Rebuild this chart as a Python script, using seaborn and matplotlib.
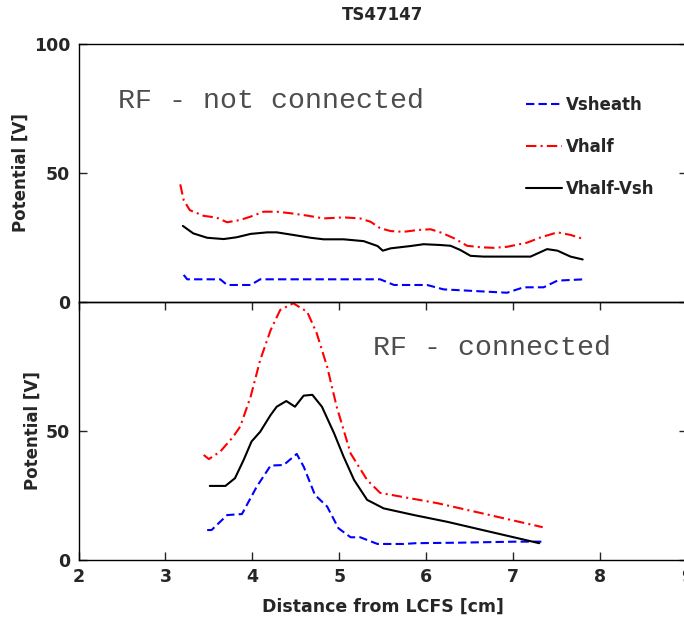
import numpy as np
import pandas as pd
import matplotlib
matplotlib.use("Agg")
import matplotlib.pyplot as plt
import seaborn as sns

# Dados - painel de cima (RF nao conectado)
x_vsh_top = [3.21, 3.25, 3.63, 3.71, 3.98, 4.09, 5.47, 5.63, 6.01, 6.20, 6.93, 7.12, 7.35, 7.51, 7.82]
vsh_top = [10.5, 8.8, 8.8, 6.6, 6.6, 8.8, 8.8, 6.6, 6.6, 4.9, 3.6, 5.7, 5.7, 8.3, 8.8]

x_vhalf_top = [3.17, 3.21, 3.28, 3.44, 3.59, 3.71, 3.86, 3.98, 4.13, 4.28, 4.44, 4.63, 4.82, 5.05,
               5.24, 5.36, 5.47, 5.59, 5.74, 5.90, 6.05, 6.18, 6.32, 6.47, 6.63, 6.78, 6.93, 7.16,
               7.32, 7.51, 7.66, 7.82]
vhalf_top = [45.6, 39.5, 35.6, 33.4, 32.7, 30.9, 31.8, 33.1, 35.0, 35.0, 34.4, 33.5, 32.4, 32.8,
             32.4, 31.1, 28.6, 27.5, 27.2, 27.9, 28.2, 26.8, 24.7, 21.8, 21.2, 21.0, 21.4, 23.0,
             25.1, 27.0, 26.0, 24.3]

x_diff_top = [3.20, 3.32, 3.48, 3.67, 3.82, 3.98, 4.17, 4.28, 4.47, 4.67, 4.82, 5.05, 5.28, 5.44,
              5.50, 5.59, 5.82, 5.97, 6.16, 6.28, 6.39, 6.51, 6.66, 7.05, 7.20, 7.39, 7.51, 7.66, 7.80]
diff_top = [29.5, 26.6, 24.9, 24.4, 25.1, 26.4, 27.0, 27.0, 26.0, 24.9, 24.3, 24.3, 23.6, 21.7,
            19.9, 20.8, 21.7, 22.4, 22.1, 21.8, 20.2, 17.9, 17.6, 17.6, 17.6, 20.5, 19.9, 17.6, 16.5]

# Painel de baixo (RF conectado)
x_vsh_bot = [3.48, 3.53, 3.71, 3.88, 4.05, 4.21, 4.36, 4.51, 4.59, 4.72, 4.86, 4.99, 5.13, 5.24,
             5.44, 5.74, 5.88, 6.38, 7.03, 7.33]
vsh_bot = [11.6, 11.6, 17.4, 17.8, 28.4, 36.6, 36.8, 41.1, 36.2, 25.2, 20.7, 12.3, 8.8, 8.8,
           6.2, 6.2, 6.5, 6.7, 7.1, 7.1]

x_vhalf_bot = [3.44, 3.50, 3.63, 3.78, 3.86, 3.98, 4.09, 4.21, 4.32, 4.47, 4.63, 4.74, 4.86, 4.97,
               5.13, 5.32, 5.47, 6.13, 6.64, 7.34]
vhalf_bot = [40.7, 39.1, 42.0, 47.8, 51.7, 63.3, 77.5, 89.1, 96.9, 99.5, 96.2, 87.9, 74.9, 59.4,
             41.3, 31.0, 26.0, 22.0, 18.1, 12.7]

x_diff_bot = [3.51, 3.69, 3.80, 3.90, 3.99, 4.09, 4.21, 4.28, 4.39, 4.49, 4.59, 4.69, 4.80, 4.94,
              5.05, 5.17, 5.32, 5.51, 5.86, 6.24, 6.61, 7.30]
diff_bot = [28.7, 28.7, 31.7, 38.8, 45.9, 49.7, 56.2, 59.4, 61.6, 59.4, 63.7, 64.0, 59.4, 49.1,
            40.0, 31.0, 23.3, 20.0, 17.4, 14.8, 11.9, 6.5]

labels = ['Vsheath', 'Vhalf', 'Vhalf-Vsh']

sns.set_style("white")
plt.rcParams['font.family'] = ['DejaVu Sans']
plt.rcParams['font.weight'] = 'bold'
plt.rcParams['axes.labelweight'] = 'bold'

fig = plt.figure(figsize=(6.84, 6.18), dpi=100)
# eixos posicionados a mao (o da direita fica um pouco fora da figura, como no original)
ax_bot = fig.add_axes([0.1148, 0.0939, 0.8896, 0.4175])
ax_top = fig.add_axes([0.1148, 0.5113, 0.8896, 0.4175])
ax_top.patch.set_alpha(0)

estilos = [dict(color='blue', linestyle=(0, (4, 2))),
           dict(color='red', linestyle=(0, (5, 2, 1, 2))),
           dict(color='black', linestyle='-')]

# painel de cima
top_data = [(x_vsh_top, vsh_top), (x_vhalf_top, vhalf_top), (x_diff_top, diff_top)]
for (xs, ys), st, lab in zip(top_data, estilos, labels):
    sns.lineplot(x=xs, y=ys, ax=ax_top, lw=1.5, label=lab, sort=False, **st)

# painel de baixo
bot_data = [(x_vsh_bot, vsh_bot), (x_vhalf_bot, vhalf_bot), (x_diff_bot, diff_bot)]
for (xs, ys), st in zip(bot_data, estilos):
    sns.lineplot(x=xs, y=ys, ax=ax_bot, lw=1.5, sort=False, **st)

for ax in (ax_top, ax_bot):
    ax.set_xlim(2, 9)
    ax.set_ylim(0, 100)
    for s in ax.spines.values():
        s.set_color('black')
        s.set_linewidth(1)
    ax.tick_params(direction='in', length=6, width=1, labelsize=12.5, pad=6,
                   top=True, right=True, left=True, bottom=True)
    ax.set_ylabel('Potential [V]', fontsize=12, labelpad=3)

ax_top.set_xticks([])
ax_top.set_yticks([0, 50, 100])
ax_bot.set_yticks([0, 50])
ax_bot.set_xticks(range(2, 10))
ax_bot.set_xlabel('Distance from LCFS [cm]', fontsize=12.5, labelpad=8)

ax_top.set_title('TS47147', fontsize=12, fontweight='bold', pad=17)

# textos das condicoes
ax_top.text(2.45, 78, 'RF - not connected', family='Liberation Mono', fontsize=20.4,
            fontweight='normal', color='#4d4d4d', va='center', ha='left')
ax_bot.text(5.39, 82, 'RF - connected', family='Liberation Mono', fontsize=20.4,
            fontweight='normal', color='#4d4d4d', va='center', ha='left')

ax_top.legend(loc='upper left', bbox_to_anchor=(0.735, 0.80), frameon=False, fontsize=12,
              handlelength=2.2, handletextpad=0.2, labelspacing=1.45, borderpad=0,
              borderaxespad=0)

plt.savefig('out.png', dpi=100)
